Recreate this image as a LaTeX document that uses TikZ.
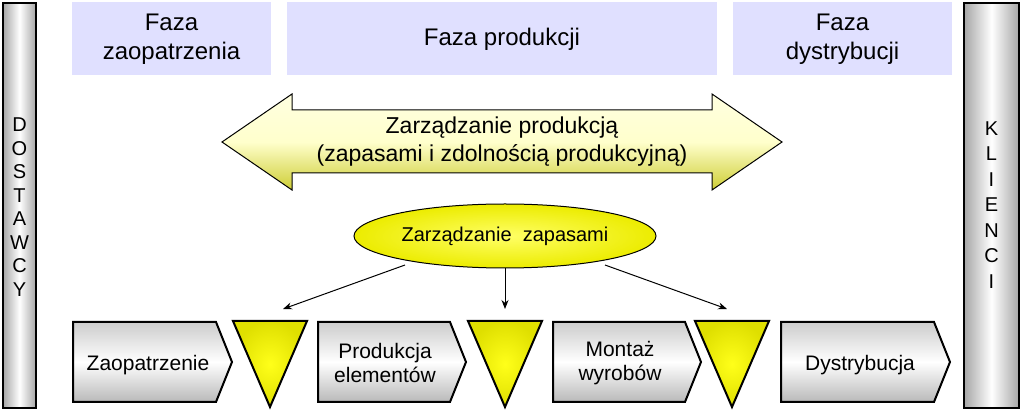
\documentclass[tikz,border=0pt]{standalone}
\usepackage{fontspec}
\setmainfont{Liberation Sans}
\usetikzlibrary{shapes.geometric,arrows.meta}
\begin{document}
\begin{tikzpicture}[x=1pt,y=-1pt,
 bar/.style={draw=black,line width=2.2pt,left color=gray!70,right color=gray!70,middle color=white},
 phase/.style={fill=blue!12!white,draw=none},
 chev/.style={draw=black,line width=2pt,top color=gray!40,bottom color=gray!55,middle color=white},
 tri/.style={draw=black,line width=2pt,inner color=yellow!90!white,outer color=yellow!75!olive},
 txt/.style={font=\fontsize{21}{24}\selectfont,align=center},
 ar/.style={-{Stealth[length=9pt,width=7pt]},line width=1pt}]
\useasboundingbox (0,0) rectangle (1023,411);
\fill[white] (0,0) rectangle (1023,411);
% side bars
\path[bar] (3,3) rectangle (36,408);
\path[bar] (964,3) rectangle (1019,408);
\node[txt,font=\fontsize{20}{23.5}\selectfont] (dost) at (19.5,207) {D\\O\\S\\T\\A\\W\\C\\Y};
\node[txt,font=\fontsize{20}{25.5}\selectfont] (kli) at (991.5,205) {K\\L\\I\\E\\N\\C\\I};
% phases
\path[phase] (72,2) rectangle (271,75);
\path[phase] (287,2) rectangle (717,75);
\path[phase] (733,2) rectangle (952,75);
\node[txt,font=\fontsize{24}{29}\selectfont] (f1) at (171.5,39) {Faza\\zaopatrzenia};
\node[txt,font=\fontsize{24}{29}\selectfont] (f2) at (502,39) {Faza produkcji};
\node[txt,font=\fontsize{24}{29}\selectfont] (f3) at (842.5,39) {Faza\\dystrybucji};
% double arrow
\path[draw=black,line width=1pt,top color=yellow!12!white,bottom color=yellow!35!olive!60!white,middle color=yellow!20!white]
 (222,142) -- (292,94) -- (292,110) -- (712,110) -- (712,94) -- (782,142) -- (712,190) -- (712,173) -- (292,173) -- (292,190) -- cycle;
\node[txt,font=\fontsize{23}{28}\selectfont] (zp) at (502,142) {Zarządzanie produkcją\\(zapasami i zdolnością produkcyjną)};
% ellipse
\node[ellipse,draw=black,line width=1pt,inner color=yellow!60!white,outer color=yellow!85!olive,minimum width=302pt,minimum height=64pt,font=\fontsize{20}{24}\selectfont] (zz) at (505,236) {Zarządzanie\ \ zapasami};
% chevrons
\path[chev] (73,322) -- (216,322) -- (232,362) -- (216,402) -- (73,402) -- cycle;
\path[chev] (318,322) -- (450,322) -- (466,362) -- (450,402) -- (318,402) -- cycle;
\path[chev] (553,322) -- (685,322) -- (701,362) -- (685,402) -- (553,402) -- cycle;
\path[chev] (781,322) -- (934,322) -- (950,362) -- (934,402) -- (781,402) -- cycle;
\node[txt] (c1) at (148,365) {Zaopatrzenie};
\node[txt] (c2) at (385,363) {Produkcja\\elementów};
\node[txt] (c3) at (620,363) {Montaż\\wyrobów};
\node[txt] (c4) at (860,365) {Dystrybucja};
% triangles
\path[tri] (233,321) -- (307,321) -- (270,407) -- cycle;
\path[tri] (468,321) -- (542,321) -- (505,407) -- cycle;
\path[tri] (695,321) -- (769,321) -- (732,407) -- cycle;
\coordinate (t1) at (283,309);
\coordinate (t2) at (505,309);
\coordinate (t3) at (727,309);
\coordinate (s1) at (405,265);
\coordinate (s3) at (605,265);
\draw[ar] (s1) -- (t1);
\draw[ar] (zz.south) -- (t2);
\draw[ar] (s3) -- (t3);
\end{tikzpicture}
\end{document}
